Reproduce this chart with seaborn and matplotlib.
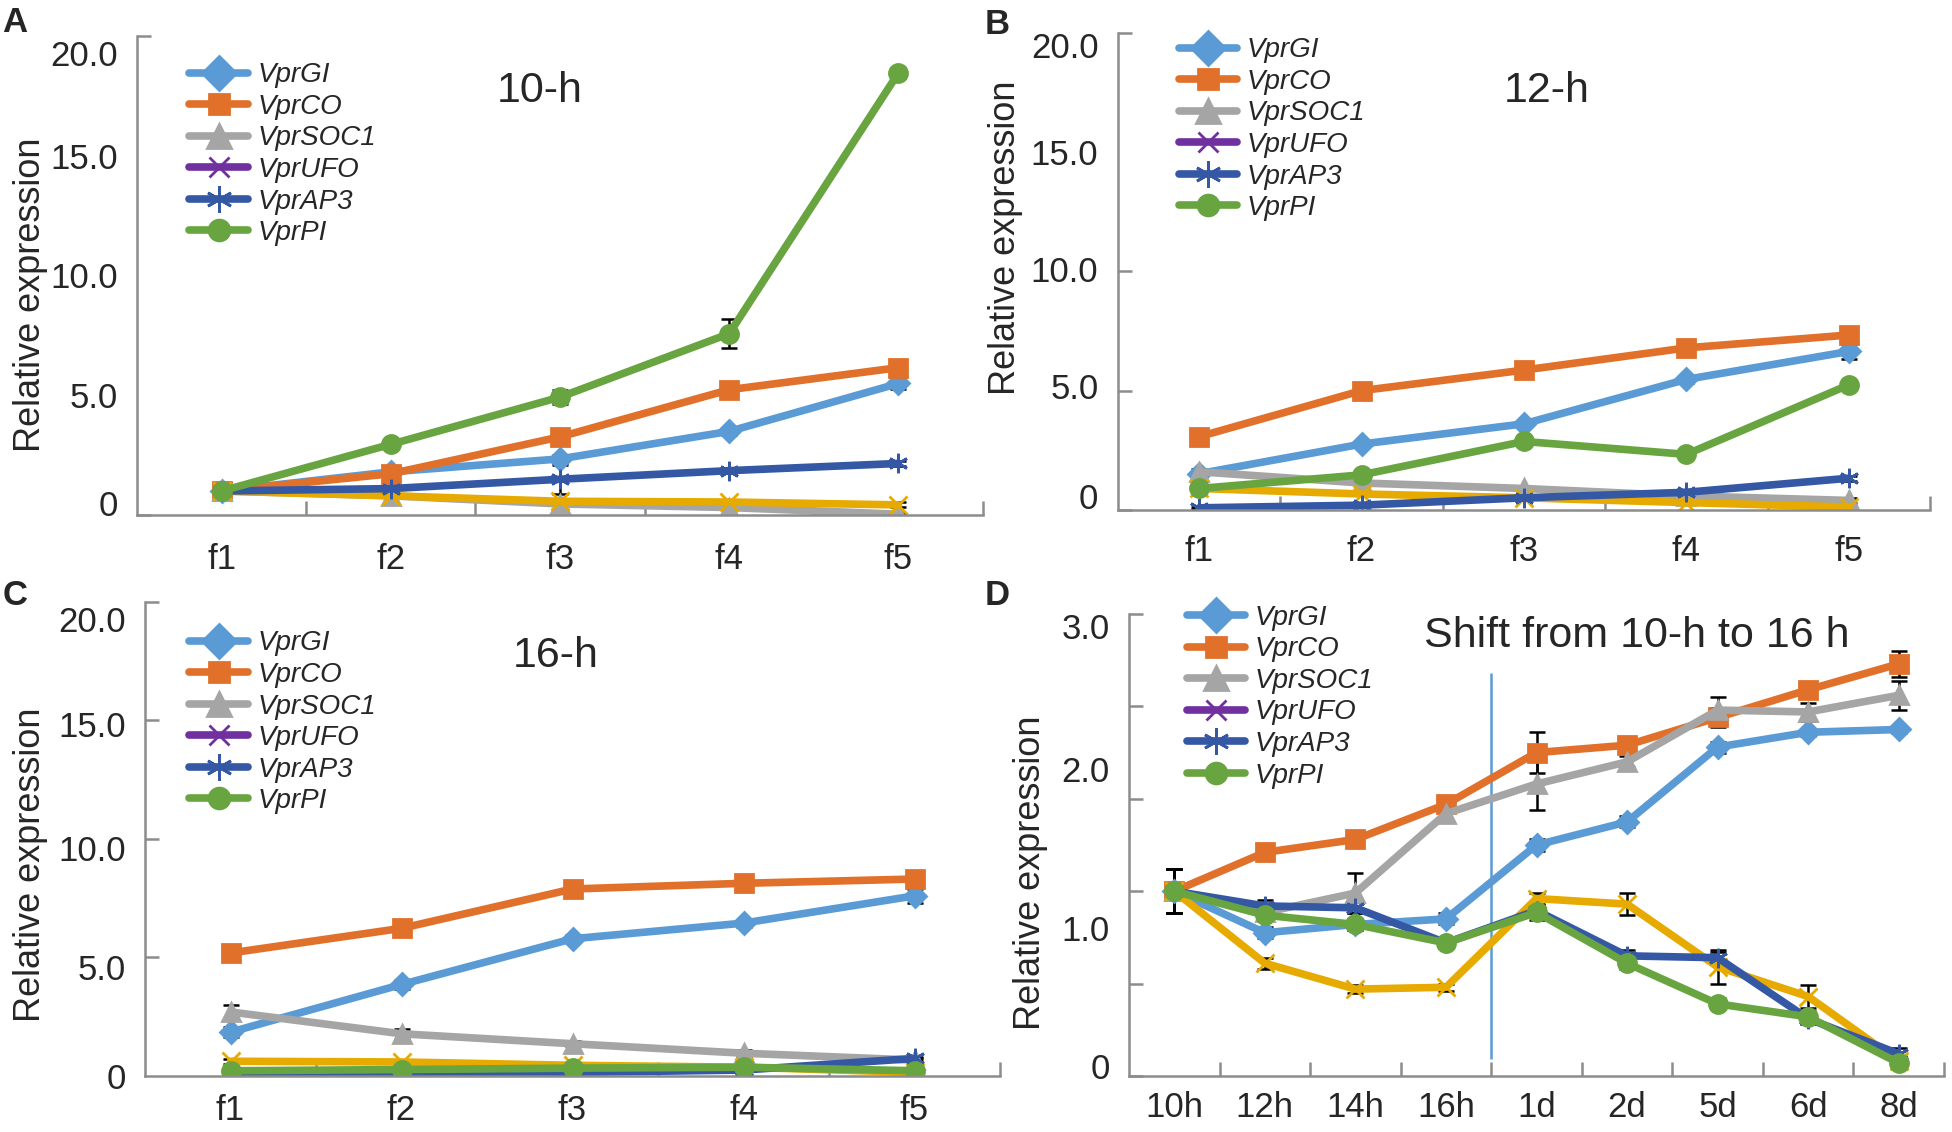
import numpy as np
import matplotlib
matplotlib.use("Agg")
import matplotlib.pyplot as plt
from matplotlib.lines import Line2D
import seaborn as sns

# ---- data ----
genes = ["VprGI", "VprCO", "VprSOC1", "VprUFO", "VprAP3", "VprPI"]
flowers = ["f1", "f2", "f3", "f4", "f5"]
shift_times = ["10h", "12h", "14h", "16h", "1d", "2d", "5d", "6d", "8d"]

a_mean = {
    "VprGI":   [1.0, 1.80, 2.34, 3.49, 5.49],
    "VprCO":   [1.0, 1.72, 3.26, 5.23, 6.15],
    "VprSOC1": [1.0, 0.80, 0.46, 0.31, 0.03],
    "VprUFO":  [1.0, 0.80, 0.57, 0.54, 0.42],
    "VprAP3":  [1.0, 1.10, 1.49, 1.85, 2.15],
    "VprPI":   [1.0, 2.95, 4.92, 7.57, 18.46],
}
a_err = {
    "VprGI":   [0.05, 0.10, 0.15, 0.15, 0.25],
    "VprCO":   [0.05, 0.10, 0.15, 0.10, 0.15],
    "VprSOC1": [0.05, 0.05, 0.05, 0.05, 0.05],
    "VprUFO":  [0.05, 0.05, 0.05, 0.05, 0.10],
    "VprAP3":  [0.05, 0.05, 0.60, 0.10, 0.10],
    "VprPI":   [0.05, 0.10, 0.30, 0.60, 0.20],
}

b_mean = {
    "VprGI":   [1.52, 2.76, 3.61, 5.47, 6.64],
    "VprCO":   [3.07, 5.00, 5.86, 6.79, 7.33],
    "VprSOC1": [1.60, 1.13, 0.90, 0.59, 0.40],
    "VprUFO":  [0.90, 0.67, 0.51, 0.31, 0.12],
    "VprAP3":  [0.09, 0.20, 0.51, 0.74, 1.33],
    "VprPI":   [0.90, 1.47, 2.87, 2.33, 5.24],
}
b_err = {
    "VprGI":   [0.10, 0.10, 0.10, 0.15, 0.30],
    "VprCO":   [0.10, 0.10, 0.10, 0.10, 0.10],
    "VprSOC1": [0.10, 0.10, 0.05, 0.05, 0.10],
    "VprUFO":  [0.05, 0.05, 0.05, 0.05, 0.05],
    "VprAP3":  [0.05, 0.05, 0.05, 0.05, 0.10],
    "VprPI":   [0.10, 0.10, 0.10, 0.10, 0.10],
}

c_mean = {
    "VprGI":   [1.85, 3.86, 5.79, 6.45, 7.60],
    "VprCO":   [5.19, 6.23, 7.89, 8.13, 8.31],
    "VprSOC1": [2.70, 1.78, 1.36, 0.96, 0.67],
    "VprUFO":  [0.62, 0.59, 0.45, 0.37, 0.15],
    "VprAP3":  [0.03, 0.07, 0.15, 0.25, 0.74],
    "VprPI":   [0.22, 0.27, 0.33, 0.37, 0.22],
}
c_err = {
    "VprGI":   [0.20, 0.20, 0.15, 0.15, 0.30],
    "VprCO":   [0.10, 0.10, 0.10, 0.10, 0.10],
    "VprSOC1": [0.30, 0.20, 0.10, 0.15, 0.10],
    "VprUFO":  [0.10, 0.10, 0.10, 0.10, 0.10],
    "VprAP3":  [0.05, 0.05, 0.05, 0.05, 0.05],
    "VprPI":   [0.10, 0.10, 0.10, 0.10, 0.10],
}

d_mean = {
    "VprGI":   [1.0, 0.775, 0.82, 0.85, 1.25, 1.375, 1.78, 1.86, 1.875],
    "VprCO":   [1.0, 1.21, 1.28, 1.47, 1.75, 1.79, 1.94, 2.09, 2.23],
    "VprSOC1": [1.0, 0.885, 0.99, 1.42, 1.58, 1.70, 1.98, 1.97, 2.06],
    "VprUFO":  [1.0, 0.61, 0.47, 0.48, 0.96, 0.93, 0.59, 0.43, 0.08],
    "VprAP3":  [1.0, 0.92, 0.91, 0.72, 0.895, 0.65, 0.64, 0.31, 0.12],
    "VprPI":   [1.0, 0.87, 0.82, 0.72, 0.885, 0.61, 0.39, 0.32, 0.07],
}
d_err = {
    "VprGI":   [0.12, 0.03, 0.03, 0.03, 0.03, 0.03, 0.03, 0.02, 0.02],
    "VprCO":   [0.12, 0.03, 0.03, 0.04, 0.11, 0.04, 0.05, 0.04, 0.07],
    "VprSOC1": [0.12, 0.03, 0.11, 0.04, 0.14, 0.03, 0.07, 0.05, 0.08],
    "VprUFO":  [0.12, 0.03, 0.02, 0.02, 0.03, 0.06, 0.09, 0.06, 0.03],
    "VprAP3":  [0.12, 0.03, 0.03, 0.03, 0.03, 0.03, 0.03, 0.03, 0.03],
    "VprPI":   [0.12, 0.03, 0.03, 0.03, 0.04, 0.03, 0.03, 0.03, 0.03],
}

# the y tick labels of the original sit a little off their tick marks
abc_tick_labels = ["0", "5.0", "10.0", "15.0", "20.0"]
a_label_pos = [0.5, 5.0, 10.0, 15.0, 19.3]
b_label_pos = [0.6, 5.2, 10.1, 15.0, 19.5]
c_label_pos = [0.0, 4.6, 9.6, 14.85, 19.3]
d_tick_labels = ["0", "1.0", "2.0", "3.0"]
d_label_pos = [0.054, 0.80, 1.66, 2.435]

# ---- styles ----
line_colors = {"VprGI": "#5B9BD5", "VprCO": "#E0702A", "VprSOC1": "#A5A5A5",
               "VprUFO": "#E6AA00", "VprAP3": "#3558A5", "VprPI": "#68A540"}
legend_colors = dict(line_colors, VprUFO="#7030A0")
markers = {"VprGI": "D", "VprCO": "s", "VprSOC1": "^", "VprUFO": "x",
           "VprAP3": (6, 2, 0), "VprPI": "o"}
msizes = {"VprGI": 11, "VprCO": 13, "VprSOC1": 13, "VprUFO": 13,
          "VprAP3": 14, "VprPI": 13}
leg_msizes = {"VprGI": 17, "VprCO": 15, "VprSOC1": 17, "VprUFO": 15,
              "VprAP3": 19, "VprPI": 15}
draw_order = ["VprGI", "VprCO", "VprSOC1", "VprUFO", "VprAP3", "VprPI"]
spine_color = "#8C8C8C"

sns.set_style("white")
plt.rcParams["font.family"] = ["Liberation Sans", "DejaVu Sans"]

fig = plt.figure(figsize=(19.52, 11.32), dpi=100)


def draw_panel(rect, cats, mean, err, ymax, minor_step, label_pos, labels,
               title, title_xy, legend_xy, ylabel_xy, xpad):
    ax = fig.add_axes(rect)
    for g in draw_order:
        ax.errorbar(np.arange(len(cats)), mean[g], yerr=err[g], fmt="none",
                    ecolor="black", elinewidth=1.8, capsize=6, capthick=1.8,
                    zorder=1)
    for g in draw_order:
        sns.lineplot(x=cats, y=mean[g], ax=ax, color=line_colors[g],
                     marker=markers[g], markersize=msizes[g],
                     markeredgecolor=line_colors[g], markeredgewidth=2,
                     linewidth=5.5, sort=False, zorder=2)
    n = len(cats)
    ax.set_xlim(-0.5, n - 0.5)
    ax.set_ylim(0, ymax)
    ax.set_xticks(range(n))
    ax.set_xticklabels(cats)
    ax.set_xticks(np.arange(0.5, n), minor=True)
    ax.set_yticks(label_pos)
    ax.set_yticklabels(labels)
    ax.set_yticks(np.arange(0, ymax + 1e-6, minor_step), minor=True)
    ax.tick_params(axis="both", which="major", length=0, labelsize=25)
    ax.tick_params(axis="x", which="major", pad=xpad)
    ax.tick_params(axis="y", which="major", pad=14)
    ax.tick_params(axis="both", which="minor", direction="in", length=10,
                   width=1.8, color=spine_color, bottom=True, left=True)
    for s in ["top", "right"]:
        ax.spines[s].set_visible(False)
    for s in ["left", "bottom"]:
        ax.spines[s].set_color(spine_color)
        ax.spines[s].set_linewidth(1.8)
    ax.set_xlabel("")
    ax.set_ylabel("Relative expression", fontsize=26)
    ax.yaxis.set_label_coords(*ylabel_xy)
    ax.text(title_xy[0], title_xy[1], title, transform=ax.transAxes,
            ha="center", va="center", fontsize=31)
    handles = [Line2D([], [], color=legend_colors[g], lw=5.5,
                      marker=markers[g], markersize=leg_msizes[g],
                      markeredgecolor=legend_colors[g], markeredgewidth=2)
               for g in genes]
    ax.legend(handles, genes, loc="upper left", bbox_to_anchor=legend_xy,
              frameon=False, borderpad=0, borderaxespad=0, handlelength=2.1,
              handletextpad=0.35, labelspacing=0.2,
              prop={"size": 20, "style": "italic"})
    return ax


draw_panel([0.0702, 0.5451, 0.4334, 0.4231], flowers, a_mean, a_err, 20, 5,
           a_label_pos, abc_tick_labels, "10-h", (0.476, 0.885),
           (0.062, 0.945), (-0.105, 0.46), 20)
draw_panel([0.5727, 0.5495, 0.4160, 0.4217], flowers, b_mean, b_err, 20, 5,
           b_label_pos, abc_tick_labels, "12-h", (0.528, 0.878),
           (0.075, 0.99), (-0.117, 0.57), 18)
draw_panel([0.0743, 0.0495, 0.4380, 0.4187], flowers, c_mean, c_err, 20, 5,
           c_label_pos, abc_tick_labels, "16-h", (0.48, 0.886),
           (0.052, 0.94), (-0.113, 0.445), 13)
ax_d = draw_panel([0.5784, 0.0495, 0.4175, 0.4081], shift_times, d_mean, d_err,
                  2.5, 0.5, d_label_pos, d_tick_labels,
                  "Shift from 10-h to 16 h", (0.623, 0.952),
                  (0.071, 1.02), (-0.099, 0.44), 11)

# day-length shift marker between 16h and 1d
shift_index = shift_times.index("16h") + 0.5
ax_d.vlines(shift_index, 0.09, 2.18, color="#5B9BD5", lw=1.8, zorder=0)

for letter, x, y in [("A", 0.0077, 0.980), ("B", 0.511, 0.978),
                     ("C", 0.0077, 0.474), ("D", 0.511, 0.474)]:
    fig.text(x, y, letter, fontsize=25, fontweight="bold", ha="center",
             va="center")

fig.savefig("out.png", dpi=100)
